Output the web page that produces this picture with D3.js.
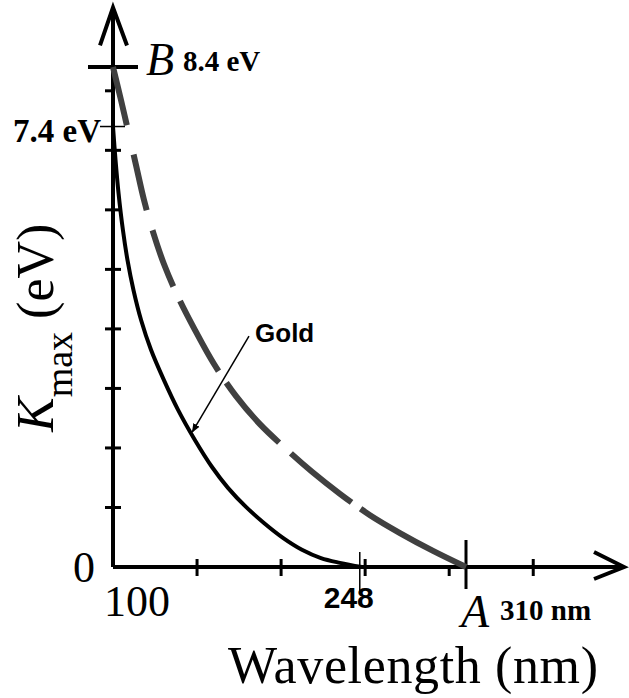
<!DOCTYPE html>
<html>
<head>
<meta charset="utf-8">
<script src="https://cdn.jsdelivr.net/npm/d3@7"></script>
<style>
    body { margin: 0; background: #fff; }
    svg { display: block; }
    .serif { font-family: "Liberation Serif", "DejaVu Serif", serif; }
    .sans { font-family: "Liberation Sans", Arial, sans-serif; font-weight: bold; }
</style>
</head>
<body>
<div id="chart"></div>
<script>
// ticks along the axes
var xTicks = [150, 200, 250, 300, 350];
var yTicks = [1, 2, 3, 4, 5, 6, 7, 8];

// gold (solid) curve
var goldWavelength = [100, 101.5, 103.3, 105.9, 108.6, 112.2, 116.7, 122.6, 130.3, 138.7, 148.8, 158.9, 168.4, 179.1, 189.8, 201.1, 212.4, 223.7, 235, 248];
var goldK = [7.4, 6.84, 6.28, 5.66, 5.16, 4.65, 4.15, 3.65, 3.14, 2.64, 2.13, 1.68, 1.33, 1.01, 0.74, 0.49, 0.29, 0.15, 0.07, 0];

// dashed curve from B to A
var dashWavelength = [100, 104.8, 108.9, 113.7, 118.4, 123.8, 130.3, 138.7, 148.8, 160.1, 173.2, 187.4, 202.3, 218.4, 235, 252.9, 270.7, 290.4, 310];
var dashK = [8.4, 7.84, 7.34, 6.75, 6.17, 5.63, 5.09, 4.54, 3.98, 3.41, 2.87, 2.4, 2.0, 1.6, 1.23, 0.87, 0.57, 0.27, 0];

// labelled values
var kB = 8.4, kGold = 7.4;
var lambdaMin = 100, lambdaGold = 248, lambdaA = 310;
var goldLabel = "Gold";

document.addEventListener("DOMContentLoaded", function(event) {

    var width = 629, height = 698;

    var x = d3.scaleLinear().domain([100, 310]).range([113, 466]);
    var y = d3.scaleLinear().domain([0, 8.4]).range([567, 67]);

    var svg = d3.select("#chart").append("svg")
        .attr("width", width)
        .attr("height", height);

    svg.append("rect").attr("width", width).attr("height", height).attr("fill", "#fff");

    var defs = svg.append("defs");
    defs.append("marker")
        .attr("id", "head")
        .attr("viewBox", "0 0 10 10")
        .attr("refX", 9).attr("refY", 5)
        .attr("markerWidth", 9).attr("markerHeight", 9)
        .attr("markerUnits", "userSpaceOnUse")
        .attr("orient", "auto")
        .append("path")
        .attr("d", "M0,1 L10,5 L0,9 Z")
        .attr("fill", "#000");

    var yTop = 9.4, xEnd = 404;

    // Y axis with open arrow
    svg.append("line")
        .attr("x1", x(100)).attr("x2", x(100))
        .attr("y1", y(0)).attr("y2", y(yTop))
        .attr("stroke", "#000").attr("stroke-width", 4);
    svg.append("path")
        .attr("d", "M" + (x(100) - 13) + "," + (y(yTop) + 38) + " L" + x(100) + "," + y(yTop) +
            " L" + (x(100) + 14) + "," + (y(yTop) + 38))
        .attr("fill", "none").attr("stroke", "#000").attr("stroke-width", 4);

    // X axis with open arrow
    svg.append("line")
        .attr("x1", x(100)).attr("x2", x(xEnd))
        .attr("y1", y(0)).attr("y2", y(0))
        .attr("stroke", "#000").attr("stroke-width", 4);
    svg.append("path")
        .attr("d", "M" + (x(xEnd) - 30) + "," + (y(0) - 15) + " L" + x(xEnd) + "," + y(0) +
            " L" + (x(xEnd) - 30) + "," + (y(0) + 12))
        .attr("fill", "none").attr("stroke", "#000").attr("stroke-width", 4);

    // y ticks (small crosses)
    svg.selectAll(".ytick")
        .data(yTicks)
        .enter().append("line")
        .attr("class", "ytick")
        .attr("x1", x(100) - 8)
        .attr("x2", function(d) { return d == 8 ? x(100) : x(100) + 8; })
        .attr("y1", function(d) { return y(d); })
        .attr("y2", function(d) { return y(d); })
        .attr("stroke", "#000").attr("stroke-width", 3);

    // x ticks
    svg.selectAll(".xtick")
        .data(xTicks)
        .enter().append("line")
        .attr("class", "xtick")
        .attr("x1", function(d) { return x(d); })
        .attr("x2", function(d) { return x(d); })
        .attr("y1", function(d) { return d == 300 ? y(0) : y(0) - 8; })
        .attr("y2", y(0) + 9)
        .attr("stroke", "#000").attr("stroke-width", 3);

    // B tick, 7.4 eV tick, A tick, 248 line
    svg.append("line")
        .attr("x1", x(100) - 25).attr("x2", x(100) + 25)
        .attr("y1", y(kB)).attr("y2", y(kB))
        .attr("stroke", "#000").attr("stroke-width", 4);
    svg.append("line")
        .attr("x1", x(100) - 13).attr("x2", x(100) + 12)
        .attr("y1", y(kGold)).attr("y2", y(kGold))
        .attr("stroke", "#000").attr("stroke-width", 1.5);
    svg.append("line")
        .attr("x1", x(lambdaA)).attr("x2", x(lambdaA))
        .attr("y1", y(0) - 27).attr("y2", y(0) + 22)
        .attr("stroke", "#000").attr("stroke-width", 3);
    svg.append("line")
        .attr("x1", x(lambdaGold) - 2).attr("x2", x(lambdaGold) - 2)
        .attr("y1", y(0) - 15).attr("y2", y(0) + 24)
        .attr("stroke", "#000").attr("stroke-width", 1.5);

    var goldData = goldWavelength.map(function(d, i) { return { l: d, k: goldK[i] }; });
    var dashData = dashWavelength.map(function(d, i) { return { l: d, k: dashK[i] }; });

    var line = d3.line()
        .x(function(d) { return x(d.l); })
        .y(function(d) { return y(d.k); })
        .curve(d3.curveCatmullRom.alpha(0.5));

    // dashed curve
    svg.append("path")
        .datum(dashData)
        .attr("d", line)
        .attr("fill", "none")
        .attr("stroke", "#404040")
        .attr("stroke-width", 6)
        .attr("stroke-dasharray", "60 30 57 21 60 16 80 14 80 16 78 11 300");

    // gold curve
    svg.append("path")
        .datum(goldData)
        .attr("d", line)
        .attr("fill", "none")
        .attr("stroke", "#000")
        .attr("stroke-width", 4);

    // Gold pointer
    svg.append("line")
        .attr("x1", x(180.9)).attr("y1", y(3.88))
        .attr("x2", x(147.2)).attr("y2", y(2.27))
        .attr("stroke", "#000").attr("stroke-width", 1.5)
        .attr("marker-end", "url(#head)");
    svg.append("text").attr("class", "sans")
        .attr("x", x(184.5)).attr("y", y(3.78))
        .style("font-size", "26px")
        .text(goldLabel);

    // labels
    svg.append("text").attr("class", "serif")
        .attr("x", x(100) + 33).attr("y", y(kB) + 8)
        .style("font-size", "46px").style("font-style", "italic")
        .text("B");
    svg.append("text").attr("class", "serif")
        .attr("x", x(100) + 70).attr("y", y(kB) + 4)
        .style("font-size", "29px").style("font-weight", "bold")
        .text(kB + " eV");
    svg.append("text").attr("class", "serif")
        .attr("x", x(100) - 12).attr("y", y(kGold) + 15)
        .attr("text-anchor", "end")
        .style("font-size", "33px").style("font-weight", "bold")
        .text(kGold + " eV");
    svg.append("text").attr("class", "serif")
        .attr("x", x(100) - 29).attr("y", y(0) + 15)
        .attr("text-anchor", "middle")
        .style("font-size", "44px")
        .text("0");
    svg.append("text").attr("class", "serif")
        .attr("x", x(lambdaMin) - 9).attr("y", y(0) + 49)
        .style("font-size", "44px")
        .text(lambdaMin);
    svg.append("text").attr("class", "sans")
        .attr("x", x(lambdaGold) - 13).attr("y", y(0) + 41)
        .attr("text-anchor", "middle")
        .style("font-size", "30px")
        .text(lambdaGold);
    svg.append("text").attr("class", "serif")
        .attr("x", x(lambdaA) - 5).attr("y", y(0) + 60)
        .style("font-size", "46px").style("font-style", "italic")
        .text("A");
    svg.append("text").attr("class", "serif")
        .attr("x", x(lambdaA) + 34).attr("y", y(0) + 53)
        .style("font-size", "29px").style("font-weight", "bold")
        .text(lambdaA + " nm");

    // axis titles
    svg.append("text").attr("class", "serif")
        .attr("x", 228).attr("y", 683)
        .attr("textLength", 370)
        .style("font-size", "52px")
        .text("Wavelength (nm)");

    var yt = svg.append("text").attr("class", "serif")
        .attr("transform", "translate(53,432) rotate(-90)")
        .style("font-size", "52px");
    yt.append("tspan").style("font-style", "italic").text("K");
    yt.append("tspan").attr("dy", 19).style("font-size", "38px").text("max");
    yt.append("tspan").attr("dy", -19).text(" (eV)");
});
</script>
</body>
</html>
